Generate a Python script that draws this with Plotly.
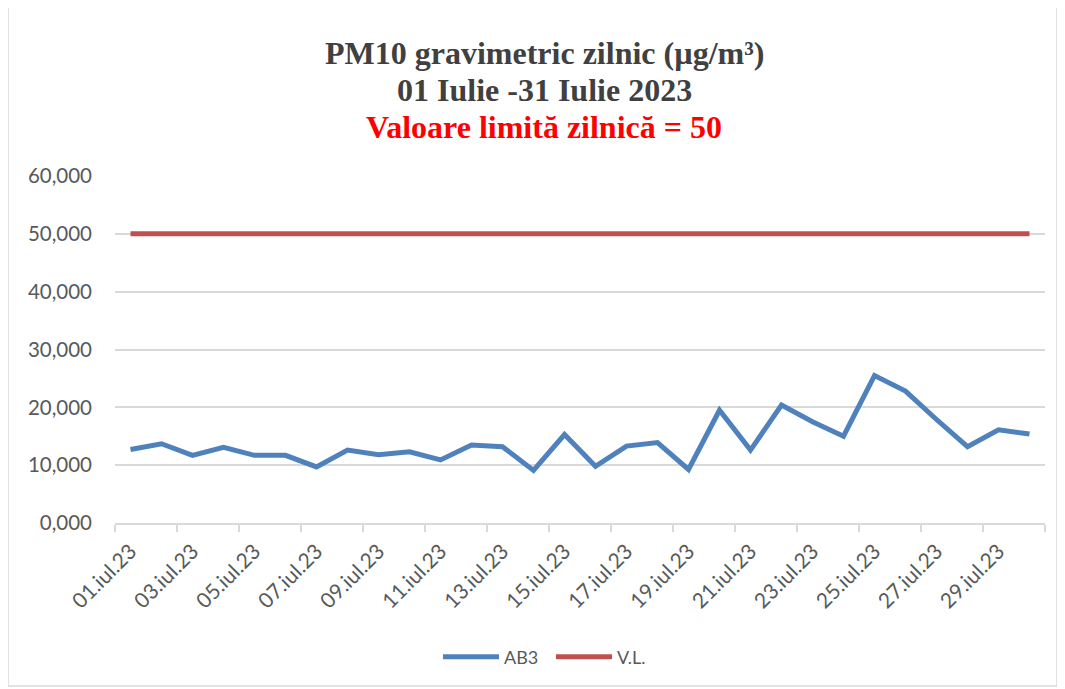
import plotly.graph_objects as go

dates = [f"{d:02d}.iul.23" for d in range(1, 31)]
ab3 = [12.7, 13.7, 11.7, 13.1, 11.7, 11.7, 9.7, 12.6, 11.8, 12.3,
       10.9, 13.5, 13.2, 9.1, 15.3, 9.8, 13.3, 13.9, 9.25, 19.5,
       12.6, 20.4, 17.5, 15.0, 25.5, 22.8, 17.9, 13.2, 16.1, 15.4]
vl = [50] * 30
yticks = [0, 10, 20, 30, 40, 50, 60]
title_lines = ["PM10 gravimetric zilnic (µg/m³)", "01 Iulie -31 Iulie 2023",
               "Valoare limită zilnică = 50"]
title_colors = ["#404040", "#404040", "#ff0000"]

idx = list(range(len(dates)))
fig = go.Figure()
fig.add_trace(go.Scatter(x=idx, y=ab3, name="AB3", mode="lines",
                         line=dict(color="#4f81bd", width=5)))
fig.add_trace(go.Scatter(x=idx, y=vl, name="V.L.", mode="lines",
                         line=dict(color="#c0504d", width=5)))

# page body has an 8px margin
OFF = 8
W, H = 1065 - OFF, 689 - OFF
L, R, T, B = 115 - OFF, 20, 176 - OFF, 166
pw, ph = W - L - R, H - T - B

def py(y):  # screen pixel y -> paper coordinate
    return (T + OFF + ph - y) / ph

def px(x):
    return (x - OFF - L) / pw

annotations = []
for i, (txt, col) in enumerate(zip(title_lines, title_colors)):
    annotations.append(dict(
        text=f"<b>{txt}</b>", xref="paper", yref="paper",
        x=px(544), y=py([53, 90, 127][i]), xanchor="center", yanchor="middle",
        showarrow=False,
        font=dict(family="Liberation Serif, serif", size=32, color=col)))

fig.update_layout(
    width=W, height=H,
    margin=dict(l=L, r=R, t=T, b=B),
    paper_bgcolor="white", plot_bgcolor="white",
    separators=",.",
    font=dict(family="Lato", color="#595959", size=19),
    xaxis=dict(
        range=[-0.5, 29.5],
        tickmode="array",
        tickvals=idx[::2],
        ticktext=dates[::2],
        tickangle=-45,
        ticks="",
        ticklabelstandoff=6,
        showgrid=False,
        showline=True, linecolor="#d9d9d9", linewidth=1.5,
        zeroline=False,
        tickfont=dict(family="Lato", size=21, color="#595959"),
        minor=dict(ticks="outside", tick0=-0.5, dtick=2, ticklen=7,
                   tickcolor="#d9d9d9", tickwidth=1.5, showgrid=False),
    ),
    yaxis=dict(
        range=[0, 60],
        tickmode="array",
        tickvals=yticks,
        tickformat=".3f",
        showgrid=True, gridcolor="#d9d9d9", gridwidth=1.5,
        zeroline=False, showline=False,
        ticks="", ticklabelstandoff=22,
        tickfont=dict(family="Lato", size=20.5, color="#595959"),
    ),
    legend=dict(orientation="h", x=px(551), xanchor="center", y=py(657),
                yanchor="middle", font=dict(family="Lato", size=18, color="#595959"),
                itemwidth=56, entrywidth=42),
    showlegend=True,
    annotations=annotations,
    shapes=[dict(type="rect", xref="paper", yref="paper",
                 x0=px(8), x1=px(1057), y0=py(686), y1=py(5),
                 line=dict(color="#d9d9d9", width=1.5), layer="below")],
)

fig.write_html("out.html")
